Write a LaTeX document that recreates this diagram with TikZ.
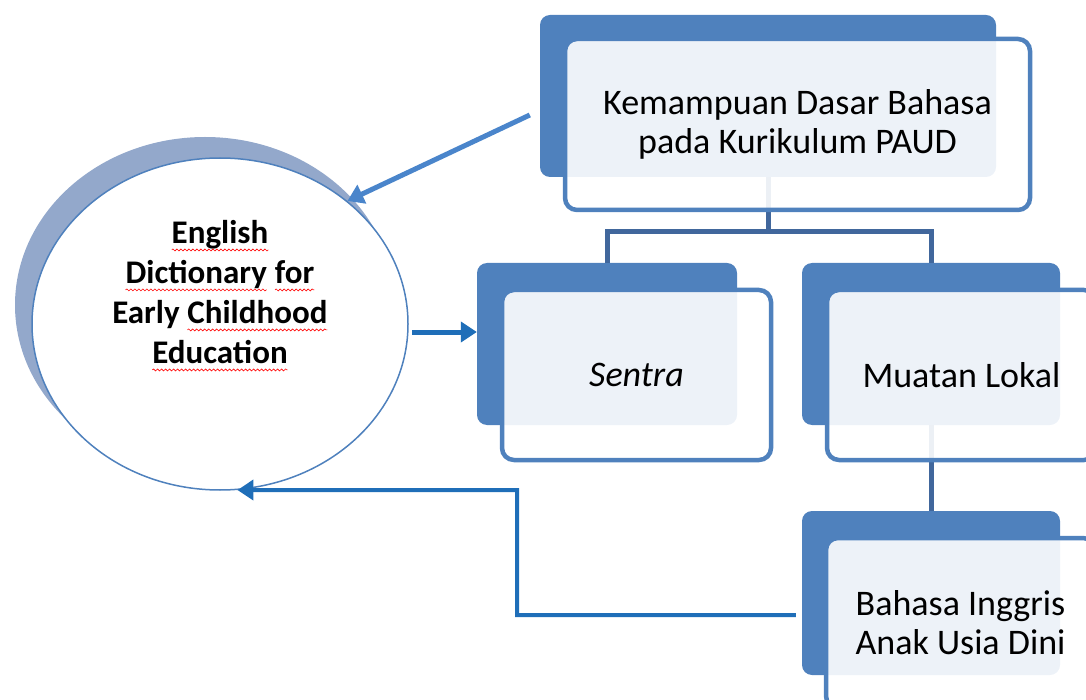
\documentclass[tikz,border=0pt]{standalone}
\usepackage{fontspec}
\setmainfont{Carlito}
\usetikzlibrary{positioning,arrows.meta,shapes.geometric,decorations.pathmorphing}
\definecolor{boxblue}{HTML}{4F81BD}
\definecolor{linkblue}{HTML}{41679C}
\definecolor{flowblue}{HTML}{1F6EB8}
\definecolor{softblue}{HTML}{4A85CB}
\definecolor{shadowblue}{HTML}{93A8CB}
\newcommand\spellchk[1]{\tikz[baseline=(w.base)]{\node[inner sep=0pt,outer sep=0pt](w){#1};
  \draw[red, line width=0.6pt, decorate, decoration={snake,amplitude=1pt,segment length=4pt}]
    ([yshift=-6pt]w.base west) -- ([yshift=-6pt]w.base east);}}

\tikzset{
  backbox/.style={fill=boxblue, rounded corners=10pt, minimum width=258pt, minimum height=162pt, inner sep=0pt},
  frontbox/.style={draw=boxblue, line width=4.5pt, fill=white, fill opacity=0.9, text opacity=1,
    rounded corners=12pt, minimum width=269pt, minimum height=170pt, align=center, inner sep=0pt,
    font=\fontsize{36}{39}\selectfont},
  link/.style={draw=linkblue, line width=5pt},
  flow/.style={draw=flowblue, line width=5pt, -{Triangle[length=16pt,width=20pt]}},
}

\begin{document}
\begin{tikzpicture}[x=1pt,y=-1pt]
  \useasboundingbox (0,0) rectangle (1086,700);
  % circle on the left
  \node[ellipse, fill=shadowblue, minimum width=380pt, minimum height=336pt] at(205,305)(dictshadow){};
  \node[ellipse, draw=boxblue, line width=1.5pt, fill=white, minimum width=376pt, minimum height=332pt] at(220,324)(dict){};
  \node[align=center, font=\bfseries\fontsize{33}{40}\selectfont] at(220,296)(dicttext){\spellchk{English}\\
    \spellchk{Dictionary} \spellchk{for}\\ Early \spellchk{Childhood}\\ \spellchk{Education}};
  % back boxes
  \node[backbox, minimum width=456pt] at(768,96)(topback){};
  \node[backbox, minimum width=260pt] at(607,344)(sentraback){};
  \node[backbox] at(931,344)(muatanback){};
  \node[backbox, minimum height=164pt] at(931,593)(bahasaback){};
  % tree lines
  \draw[link] (topback.south) -- ++(0,55);
  \draw[link] (sentraback.north) -- ++(0,-31) -| (muatanback.north);
  \draw[link] (muatanback.south) -- (bahasaback.north);
  % front boxes
  \node[frontbox, minimum width=465pt, minimum height=171pt] at(797.5,124.5)(top){Kemampuan Dasar Bahasa\\pada Kurikulum PAUD};
  \node[frontbox] at(636.5,375)(sentra){\itshape Sentra};
  \node[frontbox] at(961.5,375)(muatan){Muatan Lokal};
  \node[frontbox] at(960.5,623)(bahasa){Bahasa Inggris\\Anak Usia Dini};
  % arrows
  \draw[flow, draw=softblue] ([xshift=-10pt,yshift=-19pt]topback.west) -- (dict.44);
  \coordinate (dictout) at (412,332);
  \draw[flow] (dictout) -- (dictout -| sentraback.west);
  \coordinate (turn) at (517,490);
  \draw[flow, line width=4pt] ([xshift=-6pt,yshift=-22pt]bahasaback.west) -| (turn) -- (dict.-84);
\end{tikzpicture}
\end{document}
